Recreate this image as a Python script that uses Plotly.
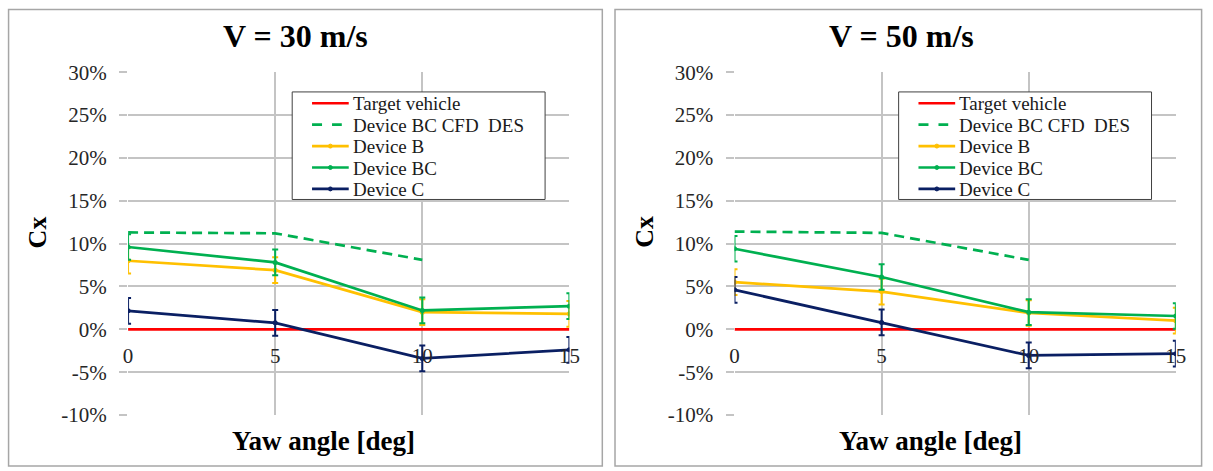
import plotly.graph_objects as go

# Figure size in pixels
W, H = 1213, 471

# ---- data -------------------------------------------------------------
yaw_deg = [0, 5, 10, 15]
yaw_labels = ["0", "5", "10", "15"]
yaw_cfd = [0, 5, 10]

cx_ticks = [-10, -5, 0, 5, 10, 15, 20, 25, 30]
cx_tick_labels = ["-10%", "-5%", "0%", "5%", "10%", "15%", "20%", "25%", "30%"]

# V = 30 m/s  (Cx change, %)
target_30 = [0, 0, 0, 0]
cfd_bc_30 = [11.3, 11.2, 8.1]
dev_b_30 = [8.0, 6.9, 2.0, 1.8]
dev_bc_30 = [9.6, 7.8, 2.2, 2.7]
dev_c_30 = [2.15, 0.75, -3.4, -2.4]

# V = 50 m/s  (Cx change, %)
target_50 = [0, 0, 0, 0]
cfd_bc_50 = [11.4, 11.25, 8.1]
dev_b_50 = [5.5, 4.4, 1.9, 1.0]
dev_bc_50 = [9.4, 6.1, 2.0, 1.55]
dev_c_50 = [4.6, 0.8, -3.05, -2.85]

# measurement uncertainty (+/-, %)
err_30 = [1.5, 1.5, 1.5, 1.5]
err_50 = [1.5, 1.5, 1.5, 1.5]

titles = ["V = 30 m/s", "V = 50 m/s"]
series_names = ["Target vehicle", "Device BC CFD\u00a0 DES", "Device B", "Device BC", "Device C"]

# ---- styling ------------------------------------------------------------
SERIF = "Liberation Serif, Times New Roman, serif"
RED = "#FF0000"
GREEN = "#00B050"
ORANGE = "#FFC000"
NAVY = "#0A1F63"
GRID = "#C4C4C4"
LW = 2.7
series_colors = [RED, GREEN, ORANGE, GREEN, NAVY]
series_dash = ["solid", "10px,10px", "solid", "solid", "solid"]
series_marker = [False, False, True, True, True]

# paper area as laid out on the page (pixel origin and extent)
PAPER_X0, PAPER_W = 3.4, 1208.0
PAPER_Y0, PAPER_H = 9.0, 453.0


def px(x):
    """page pixel x -> paper fraction"""
    return (x - PAPER_X0) / PAPER_W


def py(y):
    """page pixel y -> paper fraction"""
    return 1 - (y - PAPER_Y0) / PAPER_H


fig = go.Figure()

panels = [
    dict(target=target_30, cfd=cfd_bc_30, b=dev_b_30, bc=dev_bc_30, c=dev_c_30, err=err_30),
    dict(target=target_50, cfd=cfd_bc_50, b=dev_b_50, bc=dev_bc_50, c=dev_c_50, err=err_50),
]

# pixel geometry of each panel (horizontal offset of the second panel)
offsets = [0, 611.5]
plot_left, plot_right = 127.5, 572.5
plot_top, plot_bottom = 70.0, 417.4
zero_y = plot_top + (plot_bottom - plot_top) * 30 / 40

axis_font = dict(family=SERIF, size=21, color="#262626")

for i, (p, off) in enumerate(zip(panels, offsets)):
    n = "" if i == 0 else str(i + 1)
    xa, ya = "x" + n, "y" + n

    fig.add_trace(go.Scatter(
        x=yaw_deg, y=p["target"], name=series_names[0], mode="lines",
        line=dict(color=RED, width=LW), xaxis=xa, yaxis=ya, showlegend=False))
    fig.add_trace(go.Scatter(
        x=yaw_cfd, y=p["cfd"], name=series_names[1], mode="lines",
        line=dict(color=GREEN, width=LW, dash="10px,6px"), xaxis=xa, yaxis=ya,
        showlegend=False))
    for key, name, col in [("b", series_names[2], ORANGE),
                           ("bc", series_names[3], GREEN),
                           ("c", series_names[4], NAVY)]:
        fig.add_trace(go.Scatter(
            x=yaw_deg, y=p[key], name=name, mode="lines+markers",
            line=dict(color=col, width=LW), marker=dict(color=col, size=5),
            error_y=dict(type="data", array=p["err"], visible=True, color=col,
                         thickness=2, width=3),
            xaxis=xa, yaxis=ya, showlegend=False))

    fig.update_layout({
        "xaxis" + n: dict(
            domain=[px(plot_left + off), px(plot_right + off)], range=[0, 15],
            anchor="free", position=py(zero_y),
            tickvals=yaw_deg, ticktext=yaw_labels, ticks="", ticklabelstandoff=12,
            tickfont=axis_font, showgrid=True, gridcolor=GRID, gridwidth=1.5,
            zeroline=False, showline=False, fixedrange=True),
        "yaxis" + n: dict(
            domain=[py(plot_bottom), py(plot_top)], range=[-10, 30], anchor=xa,
            tickvals=cx_ticks, ticktext=cx_tick_labels, ticks="outside", ticklen=8,
            tickcolor=GRID, tickwidth=1.5, ticklabelstandoff=8, tickfont=axis_font,
            showgrid=True, gridcolor=GRID, gridwidth=1.5, zeroline=False,
            showline=False, fixedrange=True),
    })

    # panel frame
    fig.add_shape(type="rect", xref="paper", yref="paper",
                  x0=px(7 + off), x1=px(min(605.7 + off, 1210)), y0=py(469), y1=py(6.5),
                  line=dict(color="#A6A6A6", width=1.5), fillcolor="rgba(0,0,0,0)",
                  layer="below")

    # legend box with keys
    fig.add_shape(type="rect", xref="paper", yref="paper",
                  x0=px(293 + off), x1=px(548 + off), y0=py(199), y1=py(90),
                  line=dict(color="#404040", width=1), fillcolor="white", layer="above")
    for k, (label, col, dash, mk) in enumerate(zip(series_names, series_colors,
                                                    series_dash, series_marker)):
        row_y = 101.5 + 21.7 * k
        x_end = 343 if dash != "solid" else 350
        fig.add_shape(type="line", xref="paper", yref="paper",
                      x0=px(313 + off), x1=px(x_end + off), y0=py(row_y), y1=py(row_y),
                      line=dict(color=col, width=LW, dash=dash), layer="above")
        if mk:
            fig.add_shape(type="circle", xref="paper", yref="paper",
                          x0=px(329.5 + off), x1=px(333.5 + off),
                          y0=py(row_y + 2), y1=py(row_y - 2),
                          line=dict(color=col, width=1), fillcolor=col, layer="above")
        fig.add_annotation(text=label, xref="paper", yref="paper",
                           x=px(352 + off), y=py(row_y + 0.5), xanchor="left", yanchor="middle",
                           showarrow=False,
                           font=dict(family=SERIF, size=19, color="#1a1a1a"))

    # titles
    fig.add_annotation(text="<b>%s</b>" % titles[i], xref="paper", yref="paper",
                       x=px(296 + off), y=py(33), xanchor="center", yanchor="middle",
                       showarrow=False, font=dict(family=SERIF, size=32, color="#000"))
    fig.add_annotation(text="<b>Yaw angle [deg]</b>", xref="paper", yref="paper",
                       x=px(325 + off), y=py(443.5), xanchor="center", yanchor="middle",
                       showarrow=False, font=dict(family=SERIF, size=27, color="#000"))
    fig.add_annotation(text="<b>Cx</b>", xref="paper", yref="paper", textangle=-90,
                       x=px(36 + off), y=py(232), xanchor="center", yanchor="middle",
                       showarrow=False, font=dict(family=SERIF, size=26, color="#000"))

fig.update_layout(
    width=W, height=H, margin=dict(l=0, r=0, t=0, b=0),
    paper_bgcolor="white", plot_bgcolor="white", showlegend=False,
    font=dict(family=SERIF),
)

fig.write_html("out.html")
